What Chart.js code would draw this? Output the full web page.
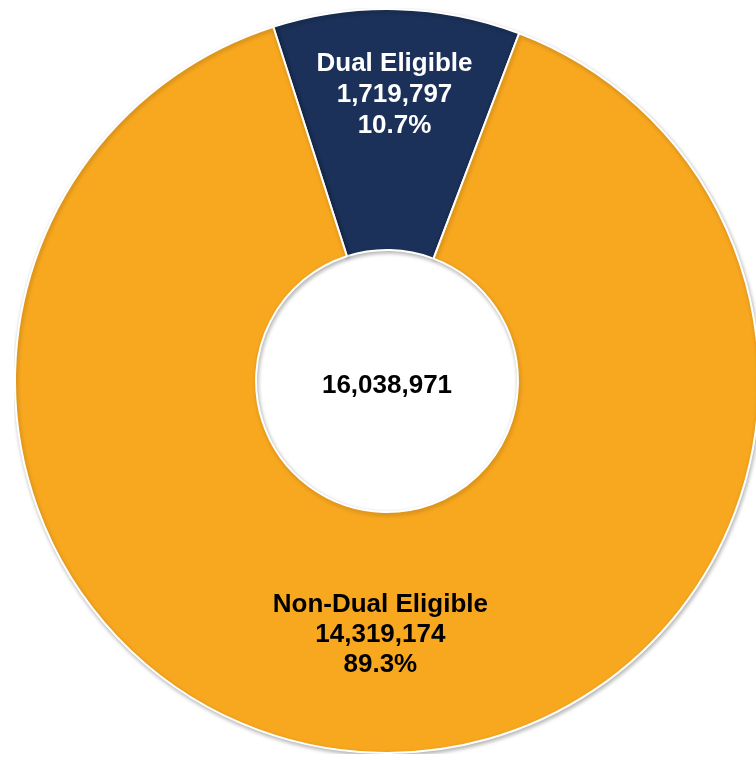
<!DOCTYPE html>
<html>
<head>
<meta charset="utf-8">
<script src="https://cdn.jsdelivr.net/npm/chart.js@4.4.1/dist/chart.umd.min.js"></script>
<style>
  html, body { margin: 0; padding: 0; background: #fff; overflow: hidden; width: 756px; height: 757px; }
  #wrap { position: absolute; left: 14px; top: 8px; width: 746px; height: 746px; }
</style>
</head>
<body>
<div id="wrap"><canvas id="donut" width="746" height="746"></canvas></div>
<script>
// --- Data ---
const categories = ['Dual Eligible', 'Non-Dual Eligible'];
const counts = [1719797, 14319174];
const shares = ['10.7%', '89.3%'];
const totalLabel = '16,038,971';

// --- Styles ---
const sliceColors = ['#1B3159', '#F8A81F'];
const textColors = ['#ffffff', '#000000'];
const labelRadius = [0.645, 0.51]; // posisi label dalam cincin (0 = dalam, 1 = luar)
const lineGap = [31, 30];
const FONT = 'bold 26px "Liberation Sans", Arial, sans-serif';

// Plugin: bayangan tipis di tepi potongan
const shadowPlugin = {
    id: 'shadow',
    beforeDatasetDraw(chart) {
        const c = chart.ctx;
        c.save();
        c.shadowColor = 'rgba(0,0,0,0.28)';
        c.shadowBlur = 4;
        c.shadowOffsetX = 1;
        c.shadowOffsetY = 2;
    },
    afterDatasetDraw(chart) {
        chart.ctx.restore();
    }
};

// Plugin: label tiap potongan + total di tengah
const labelPlugin = {
    id: 'labels',
    afterDatasetsDraw(chart) {
        const c = chart.ctx;
        const arcs = chart.getDatasetMeta(0).data;
        c.save();
        c.font = FONT;
        c.textAlign = 'center';
        c.textBaseline = 'middle';
        arcs.forEach((arc, i) => {
            const p = arc.getProps(['x', 'y', 'startAngle', 'endAngle', 'innerRadius', 'outerRadius'], true);
            const mid = (p.startAngle + p.endAngle) / 2;
            const r = p.innerRadius + (p.outerRadius - p.innerRadius) * labelRadius[i];
            const cx = p.x + Math.cos(mid) * r;
            const cy = p.y + Math.sin(mid) * r;
            const lines = [categories[i], counts[i].toLocaleString('en-US'), shares[i]];
            c.fillStyle = textColors[i];
            lines.forEach((t, k) => c.fillText(t, cx, cy + (k - 1) * lineGap[i]));
        });
        const a0 = arcs[0];
        c.fillStyle = '#000';
        c.fillText(totalLabel, a0.x, a0.y + 5);
        c.restore();
    }
};

const ctx = document.getElementById('donut').getContext('2d');
new Chart(ctx, {
    type: 'doughnut',
    data: {
        labels: categories,
        datasets: [{
            data: counts,
            backgroundColor: sliceColors,
            borderColor: '#ffffff',
            borderWidth: 2
        }]
    },
    options: {
        responsive: false,
        animation: false,
        devicePixelRatio: 1,
        cutout: '35.2%',
        rotation: -17.8,
        layout: { padding: 0 },
        plugins: {
            legend: { display: false },
            tooltip: { enabled: false }
        }
    },
    plugins: [shadowPlugin, labelPlugin]
});
</script>
</body>
</html>
